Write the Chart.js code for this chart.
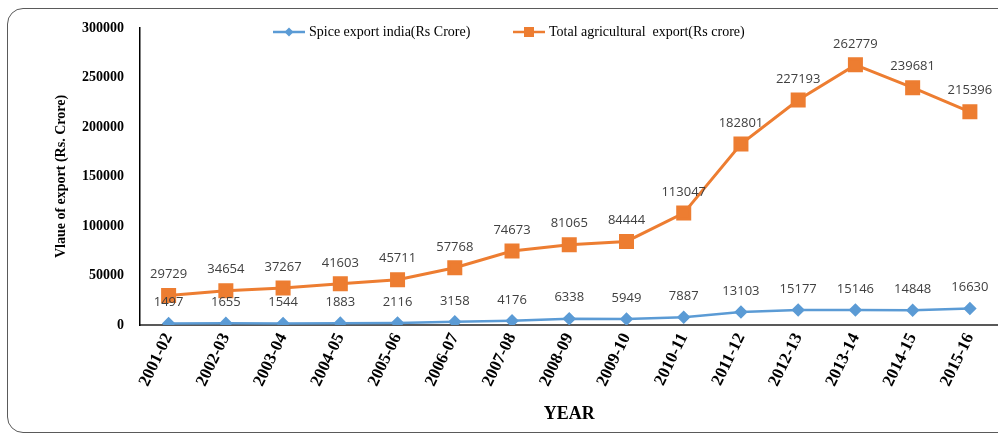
<!DOCTYPE html>
<html>
<head>
<meta charset="utf-8">
<script src="https://cdn.jsdelivr.net/npm/chart.js@4/dist/chart.umd.min.js"></script>
<style>
  html, body { margin: 0; padding: 0; background: #fff; overflow: hidden; }
  #frame {
    position: absolute; left: 7px; top: 8px; width: 1030px; height: 425px;
    border: 1.5px solid #5a5a5a; border-radius: 16px; box-sizing: border-box;
  }
  #wrap { position: absolute; left: 0; top: 0; width: 1010px; height: 437px; }
</style>
</head>
<body>
<div id="frame"></div>
<div id="wrap"><canvas id="exportChart"></canvas></div>
<script>
const years = ['2001-02', '2002-03', '2003-04', '2004-05', '2005-06', '2006-07', '2007-08',
    '2008-09', '2009-10', '2010-11', '2011-12', '2012-13', '2013-14', '2014-15', '2015-16'];
const spiceExport = [1497, 1655, 1544, 1883, 2116, 3158, 4176, 6338, 5949, 7887, 13103, 15177, 15146, 14848, 16630];
const totalAgriExport = [29729, 34654, 37267, 41603, 45711, 57768, 74673, 81065, 84444, 113047, 182801, 227193, 262779, 239681, 215396];

const BLUE = '#5B9BD5';
const ORANGE = '#ED7D31';

// value labels above each point
const valueLabels = {
    id: 'valueLabels',
    afterDatasetsDraw(chart) {
        const c = chart.ctx;
        c.save();
        c.font = '13px "Open Sans"';
        c.fillStyle = '#404040';
        c.textAlign = 'center';
        c.textBaseline = 'middle';
        chart.data.datasets.forEach((ds, i) => {
            chart.getDatasetMeta(i).data.forEach((pt, j) => {
                c.fillText(String(ds.data[j]), pt.x, pt.y - 21);
            });
        });
        c.restore();
    }
};

// Excel-style legend drawn inside the plot area
const lineLegend = {
    id: 'lineLegend',
    afterDraw(chart) {
        const c = chart.ctx;
        const starts = [273, 513];
        const y = 32;
        c.save();
        c.font = '14px "Liberation Serif"';
        c.textBaseline = 'middle';
        chart.data.datasets.forEach((ds, i) => {
            const x = starts[i];
            c.strokeStyle = ds.borderColor;
            c.lineWidth = 2.5;
            c.beginPath();
            c.moveTo(x, y);
            c.lineTo(x + 32, y);
            c.stroke();
            c.fillStyle = ds.backgroundColor;
            c.beginPath();
            if (ds.pointStyle === 'rect') {
                c.rect(x + 11, y - 5, 10, 10);
            } else {
                c.moveTo(x + 16, y - 4.5);
                c.lineTo(x + 20.5, y);
                c.lineTo(x + 16, y + 4.5);
                c.lineTo(x + 11.5, y);
                c.closePath();
            }
            c.fill();
            c.fillStyle = '#000';
            c.fillText(ds.label, x + 36, y);
        });
        c.restore();
    }
};

new Chart(document.getElementById('exportChart'), {
    type: 'line',
    data: {
        labels: years,
        datasets: [
            {
                label: 'Spice export india(Rs Crore)',
                data: spiceExport,
                borderColor: BLUE,
                backgroundColor: BLUE,
                borderWidth: 2.5,
                pointStyle: 'rectRot',
                pointRadius: 5,
                pointHoverRadius: 5
            },
            {
                label: 'Total agricultural  export(Rs crore)',
                data: totalAgriExport,
                borderColor: ORANGE,
                backgroundColor: ORANGE,
                borderWidth: 3,
                pointStyle: 'rect',
                pointRadius: 8.5,
                pointHoverRadius: 8.5
            }
        ]
    },
    options: {
        responsive: true,
        maintainAspectRatio: false,
        animation: false,
        layout: { padding: { left: 53, top: 28, right: 3, bottom: 11 } },
        plugins: {
            legend: { display: false },
            tooltip: { enabled: false }
        },
        scales: {
            x: {
                offset: true,
                grid: { display: false, drawTicks: false },
                border: { color: '#595959', width: 2 },
                ticks: {
                    autoSkip: false,
                    minRotation: 64,
                    maxRotation: 64,
                    padding: 5,
                    color: '#000',
                    font: { family: 'Liberation Serif', size: 17, weight: 'bold' }
                },
                title: {
                    display: true,
                    text: 'YEAR',
                    color: '#000',
                    padding: { top: 0, bottom: 1 },
                    font: { family: 'Liberation Serif', size: 18, weight: 'bold' }
                },
                afterFit(scale) { scale.height = 101; }
            },
            y: {
                min: 0,
                max: 300000,
                grid: { display: false, drawTicks: false },
                border: { color: '#000', width: 1.5 },
                ticks: {
                    stepSize: 50000,
                    padding: 16,
                    color: '#000',
                    font: { family: 'Liberation Serif', size: 14, weight: 'bold' },
                    callback: (v) => String(v)
                },
                title: {
                    display: true,
                    text: 'Vlaue of export (Rs. Crore)',
                    color: '#000',
                    padding: { top: 0, bottom: 0 },
                    font: { family: 'Liberation Serif', size: 14, weight: 'bold' }
                },
                afterFit(scale) { scale.width = 87; }
            }
        }
    },
    plugins: [valueLabels, lineLegend]
});
</script>
</body>
</html>
